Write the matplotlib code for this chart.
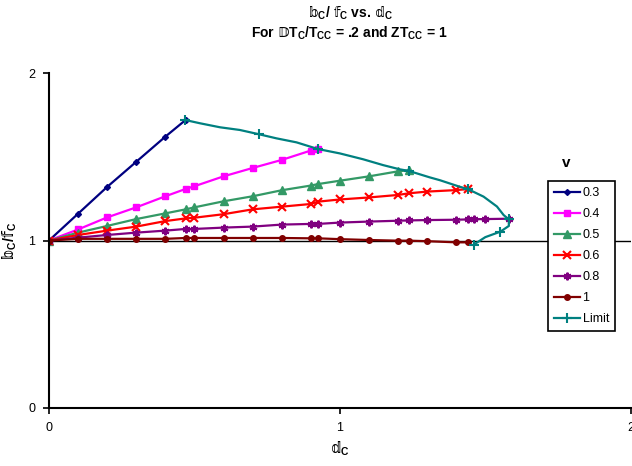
import matplotlib
matplotlib.use('Agg')
import matplotlib.pyplot as plt

plt.rcParams['font.family'] = ['Liberation Sans', 'DejaVu Sans']
plt.rcParams['mathtext.fontset'] = 'custom'
plt.rcParams['mathtext.rm'] = 'Liberation Sans:bold'
plt.rcParams['mathtext.it'] = 'Liberation Sans:bold'
plt.rcParams['mathtext.bf'] = 'Liberation Sans:bold'
plt.rcParams['mathtext.sf'] = 'DejaVu Sans'
plt.rcParams['mathtext.fallback'] = 'stixsans'

# d_c values where each v curve was evaluated
x03 = [0, 0.1, 0.2, 0.3, 0.4, 0.47]
y03 = [1, 1.16, 1.32, 1.47, 1.62, 1.72]

x04 = [0, 0.1, 0.2, 0.3, 0.4, 0.47, 0.5, 0.6, 0.7, 0.8, 0.9, 0.925]
y04 = [1, 1.066, 1.138, 1.198, 1.264, 1.308, 1.324, 1.383, 1.433, 1.481, 1.537, 1.546]

x05 = [0, 0.1, 0.2, 0.3, 0.4, 0.47, 0.5, 0.6, 0.7, 0.8, 0.9, 0.925, 1.0, 1.1, 1.2, 1.238]
y05 = [1, 1.047, 1.087, 1.128, 1.162, 1.186, 1.198, 1.234, 1.264, 1.30, 1.328, 1.337,
       1.357, 1.383, 1.413, 1.419]

x06 = [0, 0.1, 0.2, 0.3, 0.4, 0.47, 0.5, 0.6, 0.7, 0.8, 0.9, 0.925, 1.0, 1.1, 1.2, 1.238,
       1.3, 1.4, 1.44]
y06 = [1, 1.033, 1.059, 1.083, 1.116, 1.132, 1.136, 1.157, 1.186, 1.202, 1.218, 1.232,
       1.245, 1.257, 1.272, 1.282, 1.292, 1.301, 1.307]

x08 = [0, 0.1, 0.2, 0.3, 0.4, 0.47, 0.5, 0.6, 0.7, 0.8, 0.9, 0.925, 1.0, 1.1, 1.2, 1.238,
       1.3, 1.4, 1.44, 1.46, 1.5, 1.58]
y08 = [1, 1.017, 1.033, 1.047, 1.059, 1.069, 1.069, 1.077, 1.083, 1.095, 1.099, 1.099,
       1.107, 1.113, 1.118, 1.12, 1.122, 1.124, 1.126, 1.127, 1.128, 1.13]

x10 = [0, 0.1, 0.2, 0.3, 0.4, 0.47, 0.5, 0.6, 0.7, 0.8, 0.9, 0.925, 1.0, 1.1, 1.2, 1.238,
       1.3, 1.4, 1.44]
y10 = [1, 1.01, 1.01, 1.01, 1.01, 1.015, 1.015, 1.015, 1.015, 1.015, 1.013, 1.013,
       1.008, 1.003, 0.999, 0.999, 0.996, 0.989, 0.989]

xlim_ = [0.467, 0.519, 0.588, 0.656, 0.723, 0.782, 0.851, 0.925, 1.0, 1.08, 1.149, 1.206,
         1.238, 1.309, 1.344, 1.412, 1.44, 1.494, 1.54, 1.563, 1.581, 1.581, 1.552, 1.50, 1.46]
ylim_ = [1.72, 1.70, 1.676, 1.66, 1.634, 1.61, 1.586, 1.546, 1.52, 1.485, 1.45, 1.425,
         1.415, 1.377, 1.36, 1.321, 1.307, 1.262, 1.203, 1.152, 1.126, 1.087, 1.053, 1.02, 0.975]
lim_marks = [0, 4, 7, 12, 16, 20, 22, 24]

fig = plt.figure(figsize=(6.32, 4.66), dpi=100)
ax = fig.add_axes([0.0775, 0.1245, 0.9205, 0.7188])

ax.axhline(1, color='black', lw=1.0, zorder=1)

lw = 1.6
ax.plot(x03, y03, color='#000080', lw=lw, marker='D', ms=3, label='0.3')
ax.plot(x04, y04, color='#FF00FF', lw=lw, marker='s', ms=4.5, label='0.4')
ax.plot(x05, y05, color='#339966', lw=lw, marker='^', ms=5.5, label='0.5')
ax.plot(x06, y06, color='#FF0000', lw=lw, marker='x', ms=5.5, mew=1.5, label='0.6')
ax.plot(x08, y08, color='#800080', lw=lw, marker=(6, 2, 0), ms=5.5, mew=1.5, label='0.8')
ax.plot(x10, y10, color='#800000', lw=lw, marker='o', ms=4, label='1')
ax.plot(xlim_, ylim_, color='#008080', lw=lw, marker='+', ms=7, mew=1.5,
        markevery=lim_marks, label='Limit')

ax.set_xlim(0, 2)
ax.set_ylim(0, 2)
ax.set_xticks([0, 1, 2])
ax.set_yticks([0, 1, 2])
ax.tick_params(direction='out', length=4, width=1.2, labelsize=9, pad=6)
for s in ['top', 'right']:
    ax.spines[s].set_visible(False)
for s in ['left', 'bottom']:
    ax.spines[s].set_linewidth(1.5)

ax.set_xlabel(r'$\mathsf{𝕕}_C$', fontsize=10.5, labelpad=4)
ax.set_ylabel(r'$\mathsf{𝕓}_C/\mathsf{𝕗}_C$', fontsize=10.5)
ax.yaxis.set_label_coords(-0.052, 0.5)

fig.text(0.554, 0.972, r'$\mathsf{𝕓}_C$/ $\mathsf{𝕗}_C$ vs. $\mathsf{𝕕}_C$', ha='center',
         va='center', fontsize=10, fontweight='bold')
fig.text(0.552, 0.928, r'For $\mathsf{𝔻}T_C/T_{CC}$ = .2 and $ZT_{CC}$ = 1', ha='center',
         va='center', fontsize=10, fontweight='bold')

leg = ax.legend(loc='upper left', bbox_to_anchor=(0.857, 0.678), borderaxespad=0,
                fontsize=9, labelspacing=0.72, handlelength=2.1, handletextpad=0.2,
                borderpad=0.5, fancybox=False, framealpha=1, edgecolor='black')
leg.get_frame().set_linewidth(1.2)
fig.text(566 / 632, 1 - 163 / 466, 'v', ha='center', va='center', fontsize=11,
         fontweight='bold')

fig.savefig('out.png', dpi=100)
